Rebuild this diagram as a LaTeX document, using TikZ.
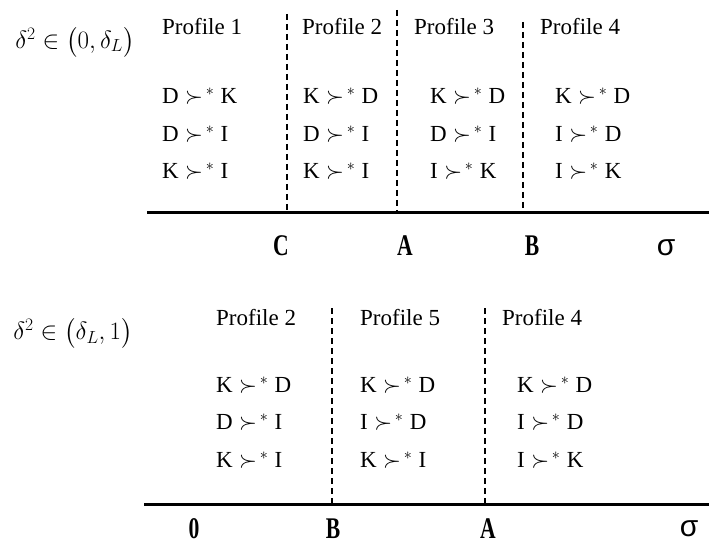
\RequirePackage{fix-cm}
\documentclass[tikz,border=0pt]{standalone}
\usepackage{amsmath}
\usepackage{fontspec}
\setmainfont{Liberation Serif}
\newfontfamily\greeksans{Liberation Sans}
\begin{document}
\begin{tikzpicture}[x=1pt,y=-1pt,
  txt/.style={inner sep=0pt,font=\fontsize{23}{27}\selectfont},
  prof/.style={txt,anchor=west},
  rel/.style={txt,anchor=west},
  cond/.style={inner sep=0pt,font=\fontsize{25}{30}\selectfont},
  tick/.style={inner sep=0pt,font=\fontsize{30}{34}\selectfont\bfseries},
  sig/.style={inner sep=0pt,font=\fontsize{30}{34}\selectfont\greeksans},
  axis/.style={line width=3pt},
  divider/.style={line width=1.6pt,dash pattern=on 6pt off 4pt}]
\useasboundingbox (0,0) rectangle (709,545);
\newcommand{\pref}[2]{#1\;$\succ^{\,*}$\;#2}
\newcommand{\narrow}[1]{\scalebox{0.72}[1]{#1}}

% ---------- upper panel ----------
\node[cond] (c1) at (75,42) {$\delta^{2}\in\bigl(0,\delta_{L}\bigr)$};

\node[prof] (p11) at (162,27) {Profile 1};
\node[prof] (p12) at (302,27) {Profile 2};
\node[prof] (p13) at (414,27) {Profile 3};
\node[prof] (p14) at (540,27) {Profile 4};

\node[rel] (r111) at (162,96) {\pref{D}{K}};
\node[rel] (r112) at (162,134) {\pref{D}{I}};
\node[rel] (r113) at (162,171) {\pref{K}{I}};

\node[rel] (r121) at (303,96) {\pref{K}{D}};
\node[rel] (r122) at (303,134) {\pref{D}{I}};
\node[rel] (r123) at (303,171) {\pref{K}{I}};

\node[rel] (r131) at (430,96) {\pref{K}{D}};
\node[rel] (r132) at (430,134) {\pref{D}{I}};
\node[rel] (r133) at (430,171) {\pref{I}{K}};

\node[rel] (r141) at (555,96) {\pref{K}{D}};
\node[rel] (r142) at (555,134) {\pref{I}{D}};
\node[rel] (r143) at (555,171) {\pref{I}{K}};

\coordinate (ax1s) at (147,213);
\coordinate (ax1e) at (709,213);
\draw[axis] (ax1s) -- (ax1e);

\coordinate (dC) at (287,14);  \coordinate (dCb) at (287,212);
\coordinate (dA) at (397,10);  \coordinate (dAb) at (397,212);
\coordinate (dB) at (523,22);  \coordinate (dBb) at (523,212);
\draw[divider] (dC) -- (dCb);
\draw[divider] (dA) -- (dAb);
\draw[divider] (dB) -- (dBb);

\node[tick] (tC) at (281,246) {\narrow{C}};
\node[tick] (tA) at (405,246) {\narrow{A}};
\node[tick] (tB) at (532,246) {\narrow{B}};
\node[sig] (s1) at (666,248) {σ};

% ---------- lower panel ----------
\node[cond] (c2) at (73,333) {$\delta^{2}\in\bigl(\delta_{L},1\bigr)$};

\node[prof] (p22) at (216,318) {Profile 2};
\node[prof] (p25) at (360,318) {Profile 5};
\node[prof] (p24) at (502,318) {Profile 4};

\node[rel] (r221) at (216,385) {\pref{K}{D}};
\node[rel] (r222) at (216,422) {\pref{D}{I}};
\node[rel] (r223) at (216,460) {\pref{K}{I}};

\node[rel] (r251) at (360,385) {\pref{K}{D}};
\node[rel] (r252) at (360,422) {\pref{I}{D}};
\node[rel] (r253) at (360,460) {\pref{K}{I}};

\node[rel] (r241) at (517,385) {\pref{K}{D}};
\node[rel] (r242) at (517,422) {\pref{I}{D}};
\node[rel] (r243) at (517,460) {\pref{I}{K}};

\coordinate (ax2s) at (144,504);
\coordinate (ax2e) at (709,504);
\draw[axis] (ax2s) -- (ax2e);

\coordinate (eB) at (332,308);  \coordinate (eBb) at (332,503);
\coordinate (eA) at (485,308);  \coordinate (eAb) at (485,503);
\draw[divider] (eB) -- (eBb);
\draw[divider] (eA) -- (eAb);

\node[tick] (t0) at (194,529) {\narrow{0}};
\node[tick] (tB2) at (333,529) {\narrow{B}};
\node[tick] (tA2) at (488,529) {\narrow{A}};
\node[sig] (s2) at (689,529) {σ};
\end{tikzpicture}
\end{document}
